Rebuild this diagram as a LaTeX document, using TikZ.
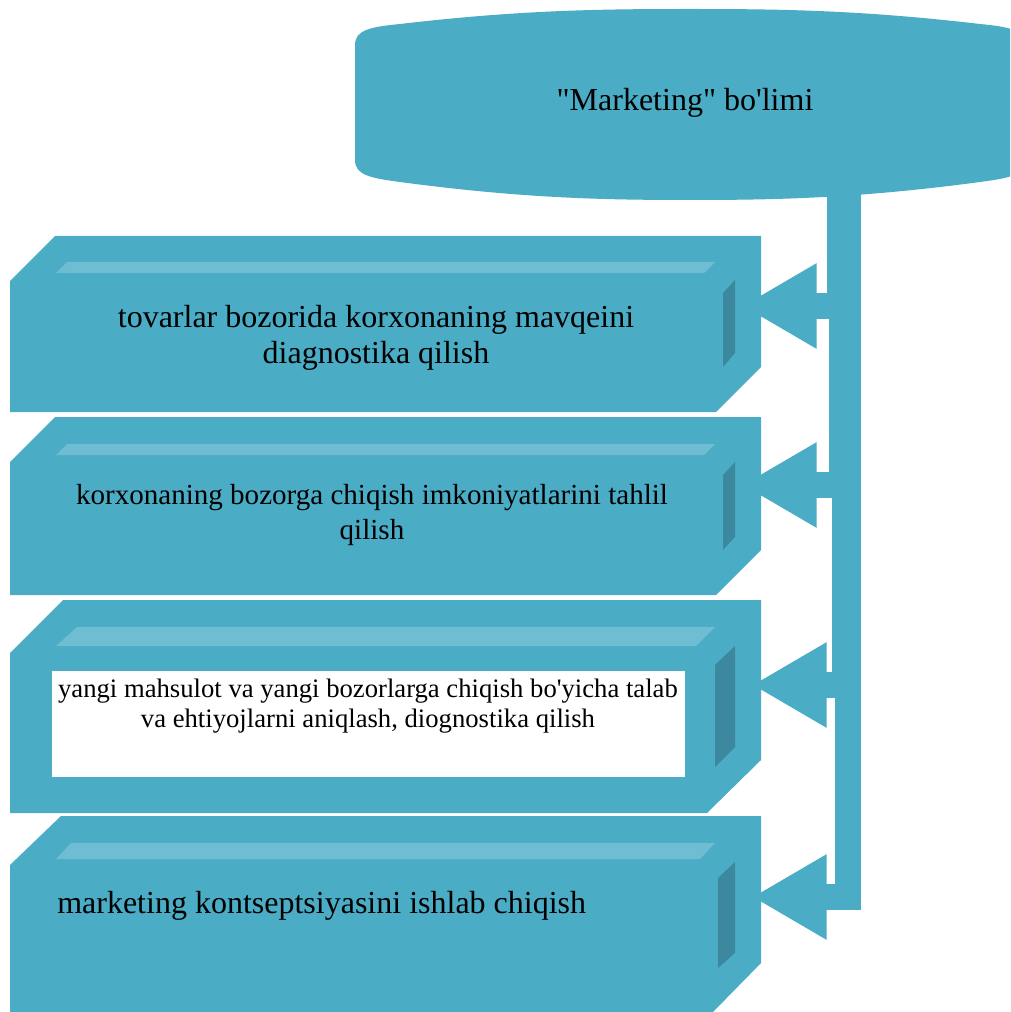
\documentclass[tikz,border=0pt]{standalone}
\usepackage{fontspec}
\setmainfont{Liberation Serif}
\newfontfamily\plainserif{Liberation Serif}
\usetikzlibrary{arrows.meta}
\definecolor{teal1}{HTML}{4BACC6}
\definecolor{tealL}{HTML}{6FBDD2}
\definecolor{tealD}{HTML}{3C889E}
\tikzset{
  boxbody/.style={fill=teal1, draw=none},
  lightstrip/.style={fill=tealL, draw=none},
  darkstrip/.style={fill=tealD, draw=none},
  conn/.style={draw=teal1, line width=19.5pt, line join=miter, line cap=butt,
    -{Triangle[length=56pt, width=60pt]}},
  txt/.style={inner sep=0pt, align=center, text=black}
}
\begin{document}
\begin{tikzpicture}[x=0.75pt, y=-0.75pt]
\clip (0,0) rectangle (1010,1012);
\fill[white] (0,0) rectangle (1010,1012);
% title shape
\fill[teal1] (355,160) -- (355,45) .. controls (355,30) and (370,27) .. (400,24)
  .. controls (520,10) and (600,9) .. (690,9)
  .. controls (780,9) and (860,10) .. (980,24)
  .. controls (1010,27) and (1025,30) .. (1025,45) -- (1025,160)
  .. controls (1025,175) and (1010,178) .. (980,182)
  .. controls (860,198) and (780,200) .. (690,200)
  .. controls (600,200) and (520,198) .. (400,182)
  .. controls (370,178) and (355,175) .. (355,160) -- cycle;
\node[txt, font=\plainserif\fontsize{24}{28}\selectfont] (title) at (685,103) {"Marketing" bo'limi};
% connector anchor coordinates
\coordinate (t1) at (840,190);
\coordinate (t2) at (842,190);
\coordinate (t3) at (845,190);
\coordinate (t4) at (848,190);
\coordinate (e1) at (742,306);
\coordinate (e2) at (742,485);
\coordinate (e3) at (752,685);
\coordinate (e4) at (752,897);
\draw[conn] (t4) |- (e4);
\draw[conn] (t3) |- (e3);
\draw[conn] (t2) |- (e2);
\draw[conn] (t1) |- (e1);
% box 1
\fill[boxbody] (10,281) -- (55,236) -- (761,236) -- (761,367) -- (716,412) -- (10,412) -- cycle;
\fill[lightstrip] (56,273) -- (67,262) -- (715,262) -- (704,273) -- cycle;
\fill[darkstrip] (723,293) -- (735,280) -- (735,353) -- (723,367) -- cycle;
\node[txt, font=\plainserif\fontsize{24}{26.5}\selectfont] (b1) at (376,338)
  {tovarlar bozorida korxonaning mavqeini\\diagnostika qilish};
% box 2
\fill[boxbody] (10,462) -- (55,417) -- (761,417) -- (761,550) -- (716,595) -- (10,595) -- cycle;
\fill[lightstrip] (56,455) -- (67,444) -- (715,444) -- (704,455) -- cycle;
\fill[darkstrip] (723,475) -- (735,462) -- (735,537) -- (723,550) -- cycle;
\node[txt, font=\plainserif\fontsize{21.8}{26.3}\selectfont] (b2) at (372,515)
  {korxonaning bozorga chiqish imkoniyatlarini tahlil\\qilish};
% box 3
\fill[boxbody] (10,653) -- (63,600) -- (761,600) -- (761,760) -- (707,813) -- (10,813) -- cycle;
\fill[lightstrip] (56,646) -- (77,627) -- (715,627) -- (696,646) -- cycle;
\fill[darkstrip] (715,665) -- (735,646) -- (735,747) -- (715,767) -- cycle;
\fill[white] (52,671) rectangle (685,777);
\node[txt, font=\plainserif\fontsize{20}{22.5}\selectfont] (b3) at (368,706)
  {yangi mahsulot va yangi bozorlarga chiqish bo'yicha talab\\va ehtiyojlarni aniqlash, diognostika qilish};
% box 4
\fill[boxbody] (10,865) -- (61,816) -- (761,816) -- (761,963) -- (713,1012) -- (10,1012) -- cycle;
\fill[lightstrip] (56,859) -- (71,843) -- (715,843) -- (700,859) -- cycle;
\fill[darkstrip] (718,878) -- (735,862) -- (735,953) -- (718,968) -- cycle;
\node[txt, anchor=west, font=\plainserif\fontsize{24}{28}\selectfont] (b4) at (57,906)
  {marketing kontseptsiyasini ishlab chiqish};
\end{tikzpicture}
\end{document}
